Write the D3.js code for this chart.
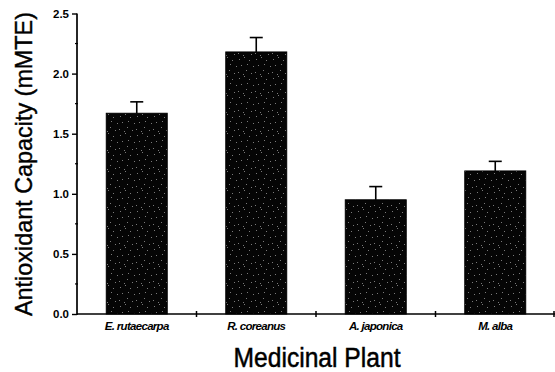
<!DOCTYPE html>
<html>
<head>
<meta charset="utf-8">
<script src="https://cdn.jsdelivr.net/npm/d3@7"></script>
<style>
body { margin: 0; background: #fff; }
svg { display: block; }
</style>
</head>
<body>
<svg id="base" width="555" height="372"></svg>
<script>
let plants = ["E. rutaecarpa", "R. coreanus", "A. japonica", "M. alba"]
let capacity = [1.67, 2.18, 0.95, 1.19]
let errors = [0.095, 0.12, 0.11, 0.08]
let yTicks = [0, 0.5, 1.0, 1.5, 2.0, 2.5]
let yMinor = [0.25, 0.75, 1.25, 1.75, 2.25]

let plotLeft = 77, plotRight = 555, plotTop = 13.5, plotBottom = 314

const base = d3.select('#base')

let x = d3.scaleBand().domain(plants).range([plotLeft, plotRight]).paddingInner(0.49).paddingOuter(0.245)
let xEdge = d3.scaleLinear().domain([0, plants.length]).range([plotLeft, plotRight])
let y = d3.scaleLinear().domain([0, 2.5]).range([plotBottom, plotTop])

// speckled texture for bars, scanned look
let defs = base.append('defs')
let pat = defs.append('pattern')
    .attr('id', 'speck')
    .attr('patternUnits', 'userSpaceOnUse')
    .attr('width', 17)
    .attr('height', 19)
pat.append('rect').attr('width', 17).attr('height', 19).attr('fill', '#050505')
let specks = [[1, 2], [6, 0], [11, 3], [15, 9], [3, 8], [8, 13], [13, 16], [0, 15], [9, 7], [5, 17]]
specks.forEach(p => {
    pat.append('rect')
        .attr('x', p[0]).attr('y', p[1])
        .attr('width', 1).attr('height', 1)
        .attr('fill', '#7a7a7a')
})

// bars
base.selectAll('rect.bar')
    .data(plants)
    .enter().append('rect')
    .attr('class', 'bar')
    .attr('x', d => x(d))
    .attr('width', x.bandwidth())
    .attr('y', (d, i) => y(capacity[i]))
    .attr('height', (d, i) => y(0) - y(capacity[i]))
    .attr('fill', 'url(#speck)')
    .style('stroke', '#000')
    .style('stroke-width', 1)

// error bars (top only)
plants.forEach((d, i) => {
    let cx = x(d) + x.bandwidth() / 2
    base.append('line')
        .attr('x1', cx).attr('x2', cx)
        .attr('y1', y(capacity[i])).attr('y2', y(capacity[i] + errors[i]))
        .style('stroke', '#000').style('stroke-width', 1.6)
    base.append('line')
        .attr('x1', cx - 6.5).attr('x2', cx + 6.5)
        .attr('y1', y(capacity[i] + errors[i])).attr('y2', y(capacity[i] + errors[i]))
        .style('stroke', '#000').style('stroke-width', 1.6)
})

// y axis
let yAxis = d3.axisLeft(y)
    .tickValues(yTicks)
    .tickFormat(d3.format('.1f'))
    .tickSize(5)
    .tickPadding(3)
let gy = base.append('g')
    .attr('transform', 'translate(' + plotLeft + ',0)')
    .call(yAxis)
gy.select('.domain').remove()
gy.selectAll('line').style('stroke', '#000').style('stroke-width', 1.4)
gy.selectAll('text')
    .style('font-family', 'Liberation Sans, Arial, sans-serif')
    .style('font-size', '11.5px')
    .style('font-weight', 'bold')
    .attr('fill', '#000')
base.append('line')
    .attr('x1', plotLeft).attr('x2', plotLeft)
    .attr('y1', y(2.5)).attr('y2', y(0) + 1)
    .style('stroke', '#000').style('stroke-width', 1.7)
base.selectAll('line.yminor')
    .data(yMinor)
    .enter().append('line')
    .attr('class', 'yminor')
    .attr('x1', plotLeft - 2).attr('x2', plotLeft + 1)
    .attr('y1', d => y(d)).attr('y2', d => y(d))
    .style('stroke', '#000').style('stroke-width', 1.2)

// x axis
base.append('line')
    .attr('x1', plotLeft).attr('x2', plotRight)
    .attr('y1', plotBottom).attr('y2', plotBottom)
    .style('stroke', '#000').style('stroke-width', 1.7)
base.selectAll('line.xtick')
    .data(d3.range(1, plants.length + 1))
    .enter().append('line')
    .attr('class', 'xtick')
    .attr('x1', d => Math.min(xEdge(d), plotRight - 1)).attr('x2', d => Math.min(xEdge(d), plotRight - 1))
    .attr('y1', plotBottom - 3).attr('y2', plotBottom + 3)
    .style('stroke', '#000').style('stroke-width', 1.5)

base.selectAll('text.cat')
    .data(plants)
    .enter().append('text')
    .attr('class', 'cat')
    .attr('x', d => x(d) + x.bandwidth() / 2)
    .attr('y', 330)
    .attr('text-anchor', 'middle')
    .style('font-family', 'Liberation Sans, Arial, sans-serif')
    .style('font-size', '11.5px')
    .style('font-weight', 'bold')
    .style('font-style', 'italic')
    .style('letter-spacing', '-0.7px')
    .text(d => d)

// axis titles
base.append('text')
    .attr('x', 317)
    .attr('y', 367)
    .attr('text-anchor', 'middle')
    .attr('textLength', 167)
    .attr('lengthAdjust', 'spacingAndGlyphs')
    .style('font-family', 'Liberation Sans, Arial, sans-serif')
    .style('font-size', '27px')
    .style('stroke', '#000')
    .style('stroke-width', 0.5)
    .text('Medicinal Plant')

base.append('text')
    .attr('transform', 'translate(32,164) rotate(-90)')
    .attr('text-anchor', 'middle')
    .attr('textLength', 304)
    .attr('lengthAdjust', 'spacingAndGlyphs')
    .style('font-family', 'Liberation Sans, Arial, sans-serif')
    .style('font-size', '24px')
    .style('stroke', '#000')
    .style('stroke-width', 0.4)
    .text('Antioxidant Capacity (mMTE)')
</script>
</body>
</html>
